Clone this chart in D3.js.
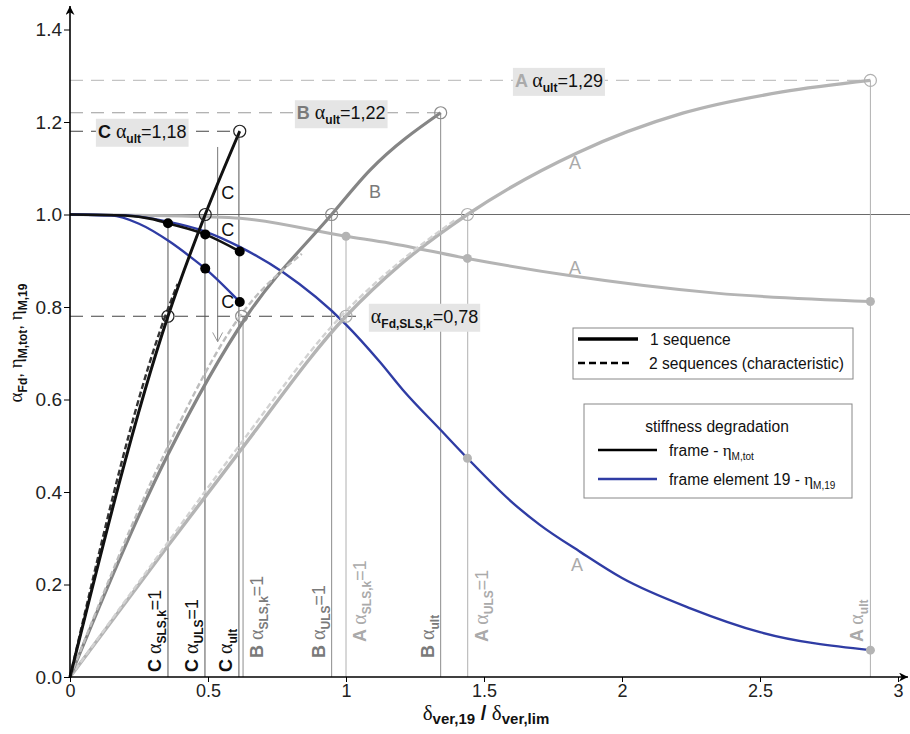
<!DOCTYPE html>
<html>
<head>
<meta charset="utf-8">
<script src="https://cdn.jsdelivr.net/npm/d3@7"></script>
<style>
  body { margin: 0; background: #fff; }
  svg { display: block; }
  text { font-family: "Liberation Sans", Arial, sans-serif; }
</style>
</head>
<body>
<svg id="chart" width="910" height="734"></svg>
<script>
// ---- data ----
const xTicks = [0, 0.5, 1, 1.5, 2, 2.5, 3]
const yTicks = [0, 0.2, 0.4, 0.6, 0.8, 1.0, 1.2, 1.4]

// load factor alpha_Fd vs delta ratio, 1 sequence
const loadC = [[0, 0], [0.355, 0.78], [0.49, 1.0], [0.615, 1.18]]
const loadB = [[0, 0], [0.354, 0.48], [0.64, 0.78], [0.948, 1.0], [1.087, 1.096], [1.343, 1.22]]
const loadA = [[0, 0], [0.344, 0.275], [0.61, 0.484], [1.0, 0.78], [1.2, 0.893], [1.44, 1.0], [1.837, 1.133], [2.22, 1.219], [2.58, 1.265], [2.9, 1.29]]
// 2 sequences (characteristic)
const loadCdash = [[0, 0], [0.345, 0.78], [0.39, 0.85]]
const loadBdash = [[0, 0], [0.34, 0.48], [0.616, 0.78], [0.84, 0.915]]
const loadAdash = [[0, 0], [0.335, 0.275], [0.6, 0.49], [0.99, 0.785], [1.2, 0.9], [1.4, 0.99]]

// stiffness degradation
const etaCtot = [[0, 1], [0.2, 0.998], [0.3, 0.99], [0.355, 0.981], [0.49, 0.957], [0.615, 0.92]]
const etaC19 = [[0, 1], [0.15, 0.998], [0.25, 0.98], [0.362, 0.941], [0.435, 0.909], [0.49, 0.883], [0.615, 0.811]]
const etaAtot = [[0, 1], [0.5, 0.995], [0.616, 0.992], [1.0, 0.953], [1.16, 0.938], [1.44, 0.905], [1.81, 0.868], [2.34, 0.83], [2.9, 0.812]]
const etaA19 = [[0, 1], [0.2, 0.998], [0.35, 0.985], [0.49, 0.963], [0.615, 0.93], [0.772, 0.875], [1.0, 0.762], [1.123, 0.681],
  [1.207, 0.62], [1.343, 0.534], [1.44, 0.473], [1.605, 0.376], [1.7, 0.33], [1.85, 0.27], [2.0, 0.214], [2.25, 0.148], [2.5, 0.097], [2.9, 0.058]]

// limit states per case: vertical guides (x, top value)
const guides = [
  { sc: 'C', x: 0.355, top: 0.981, sub: 'SLS,k', eq: '=1', side: 'l' },
  { sc: 'C', x: 0.489, top: 1.0, sub: 'ULS', eq: '=1', side: 'l' },
  { sc: 'C', x: 0.612, top: 1.18, sub: 'ult', eq: '', side: 'l' },
  { sc: 'B', x: 0.627, top: 0.78, sub: 'SLS,k', eq: '=1', side: 'r' },
  { sc: 'B', x: 0.948, top: 1.0, sub: 'ULS', eq: '=1', side: 'l' },
  { sc: 'A', x: 1.0, top: 0.953, sub: 'SLS,k', eq: '=1', side: 'r' },
  { sc: 'B', x: 1.343, top: 1.22, sub: 'ult', eq: '', side: 'l' },
  { sc: 'A', x: 1.441, top: 1.0, sub: 'ULS', eq: '=1', side: 'r' },
  { sc: 'A', x: 2.9, top: 1.29, sub: 'ult', eq: '', side: 'l' }
]
const openPts = [
  { sc: 'C', p: [0.615, 1.18] }, { sc: 'C', p: [0.49, 1.0] }, { sc: 'C', p: [0.355, 0.78] },
  { sc: 'B', p: [1.343, 1.22] }, { sc: 'B', p: [0.948, 1.0] }, { sc: 'B', p: [0.622, 0.78] },
  { sc: 'A', p: [2.9, 1.29] }, { sc: 'A', p: [1.44, 1.0] }, { sc: 'A', p: [1.0, 0.78] }
]
const dotPts = [
  { sc: 'C', p: [0.355, 0.981] }, { sc: 'C', p: [0.49, 0.957] }, { sc: 'C', p: [0.615, 0.92] },
  { sc: 'C', p: [0.49, 0.883] }, { sc: 'C', p: [0.615, 0.811] },
  { sc: 'A', p: [1.0, 0.953] }, { sc: 'A', p: [1.44, 0.905] }, { sc: 'A', p: [2.9, 0.812] },
  { sc: 'A', p: [1.44, 0.473] }, { sc: 'A', p: [2.9, 0.058] }
]
// ultimate / SLS level annotations
const levels = [
  { sc: 'C', v: 1.18, xEnd: 0.615, xText: 0.101, sub: 'ult', txt: '=1,18' },
  { sc: 'B', v: 1.22, xEnd: 1.343, xText: 0.822, sub: 'ult', txt: '=1,22' },
  { sc: 'A', v: 1.29, xEnd: 2.9, xText: 1.612, sub: 'ult', txt: '=1,29' },
  { sc: '', v: 0.78, xEnd: 1.05, xText: 1.09, sub: 'Fd,SLS,k', txt: '=0,78' }
]
const curveTags = [
  { sc: 'C', p: [0.548, 1.034] }, { sc: 'C', p: [0.548, 0.954] }, { sc: 'C', p: [0.548, 0.798] },
  { sc: 'B', p: [1.083, 1.036] }, { sc: 'A', p: [1.808, 1.098] }, { sc: 'A', p: [1.808, 0.871] }, { sc: 'A', p: [1.815, 0.229] }
]

// ---- setup ----
const svg = d3.select('#chart')
const SERIF = '"Liberation Serif", "DejaVu Serif", serif'
const col = { A: '#b4b4b4', B: '#858585', C: '#111111' }
const textCol = { A: '#aaaaaa', B: '#7a7a7a', C: '#111111' }
const guideCol = { A: '#b0b0b0', B: '#8c8c8c', C: '#555555' }
const levelCol = { A: '#c4c4c4', B: '#9a9a9a', C: '#444444', '': '#444444' }
const labelBottom = { A: 642, B: 658, C: 672 }
const blue = '#2f3ca4'

const x = d3.scaleLinear().domain([0, 3]).range([70, 898])
const y = d3.scaleLinear().domain([0, 1.4]).range([677, 29.5])
const line = d3.line().x(d => x(d[0])).y(d => y(d[1])).curve(d3.curveMonotoneX)

svg.append('rect').attr('width', 910).attr('height', 734).attr('fill', '#fff')

svg.append('defs').append('marker')
  .attr('id', 'arr').attr('viewBox', '0 0 10 10').attr('refX', 10).attr('refY', 5)
  .attr('markerWidth', 11).attr('markerHeight', 9).attr('markerUnits', 'userSpaceOnUse')
  .attr('orient', 'auto')
  .append('path').attr('d', 'M0,0 L10,5 L0,10 L3,5 z').attr('fill', '#000')

// rich text helper: parts = [text, {b: bold, s: serif, fs: size, dy, c: color}]
function rich(t, parts) {
  parts.forEach(([txt, o]) => {
    t.append('tspan').text(txt)
      .attr('font-weight', o.b ? 'bold' : null)
      .attr('font-family', o.s ? SERIF : null)
      .attr('font-size', o.fs)
      .attr('dy', o.dy || 0)
      .attr('fill', o.c || null)
  })
  return t
}

// ---- guide lines ----
svg.append('line')  // alpha = 1
  .attr('x1', x(0)).attr('x2', 910).attr('y1', y(1)).attr('y2', y(1))
  .attr('stroke', '#6a6a6a').attr('stroke-width', 1)

levels.forEach(l => {
  svg.append('line')
    .attr('x1', x(0)).attr('x2', x(l.xEnd)).attr('y1', y(l.v)).attr('y2', y(l.v))
    .attr('stroke', levelCol[l.sc]).attr('stroke-width', 1.2).attr('stroke-dasharray', '13,8')
})

guides.forEach(g => {
  svg.append('line')
    .attr('x1', x(g.x)).attr('x2', x(g.x)).attr('y1', y(0)).attr('y2', y(g.top))
    .attr('stroke', guideCol[g.sc]).attr('stroke-width', 1)
})

// leader with small arrow near C
svg.append('line')
  .attr('x1', x(0.535)).attr('x2', x(0.535)).attr('y1', y(1.146)).attr('y2', y(0.725))
  .attr('stroke', '#777').attr('stroke-width', 1)
svg.append('path')
  .attr('d', `M${x(0.535) - 5},${y(0.745)} L${x(0.535)},${y(0.725)} L${x(0.535) + 5},${y(0.745)}`)
  .attr('fill', 'none').attr('stroke', '#999').attr('stroke-width', 1)

// ---- curves ----
const drawCurve = (d, stroke, w, dash) => svg.append('path').datum(d).attr('d', line)
  .attr('fill', 'none').attr('stroke', stroke).attr('stroke-width', w)
  .attr('stroke-dasharray', dash || null).attr('stroke-linecap', 'butt')

drawCurve(etaAtot, col.A, 3)
drawCurve(etaA19, blue, 2.4)
drawCurve(loadA, col.A, 3.4)
drawCurve(loadAdash, '#d2d2d2', 2.4, '6,3')
drawCurve(loadB, col.B, 3.2)
drawCurve(loadBdash, '#bdbdbd', 2.4, '6,3')
drawCurve(etaC19, blue, 2.4)
drawCurve(etaCtot, col.C, 2.6)
drawCurve(loadCdash, '#333', 2.4, '6,3')
drawCurve(loadC, col.C, 3)

// ---- markers ----
svg.selectAll('.open').data(openPts).join('circle')
  .attr('cx', d => x(d.p[0])).attr('cy', d => y(d.p[1])).attr('r', 6)
  .attr('fill', 'none').attr('stroke', d => d.sc === 'C' ? '#222' : guideCol[d.sc]).attr('stroke-width', 1.2)

svg.selectAll('.dot').data(dotPts).join('circle')
  .attr('cx', d => x(d.p[0])).attr('cy', d => y(d.p[1])).attr('r', d => d.sc === 'C' ? 5 : 4.5)
  .attr('fill', d => d.sc === 'C' ? '#000' : '#b4b4b4')

// ---- curve tags ----
curveTags.forEach(c => {
  svg.append('text').text(c.sc)
    .attr('x', x(c.p[0])).attr('y', y(c.p[1]))
    .attr('font-size', 18).attr('fill', textCol[c.sc])
})

// ---- level annotation boxes ----
levels.forEach(l => {
  const g = svg.append('g')
  const t = g.append('text').attr('x', x(l.xText)).attr('y', y(l.v) + 6.5).attr('font-size', 18).attr('fill', '#111')
  const parts = []
  if (l.sc) parts.push([l.sc + ' ', { b: true, c: textCol[l.sc] }])
  parts.push(['α', { s: true, fs: 20 }])
  parts.push([l.sub, { b: true, fs: 12, dy: 5 }])
  parts.push([l.txt, { dy: -5 }])
  rich(t, parts)
  const bb = t.node().getBBox()
  g.insert('rect', 'text')
    .attr('x', bb.x - 2).attr('y', bb.y - 1).attr('width', bb.width + 4).attr('height', bb.height + 2)
    .attr('fill', '#e5e5e5')
})

// ---- rotated limit-state labels ----
guides.forEach(g => {
  const bx = x(g.x) + (g.side === 'l' ? -7 : 20)
  const t = svg.append('text')
    .attr('transform', `translate(${bx},${labelBottom[g.sc]}) rotate(-90)`)
    .attr('font-size', 18).attr('fill', textCol[g.sc])
  const parts = [[g.sc + ' ', { b: true }], ['α', { s: true, fs: 20 }], [g.sub, { b: true, fs: 12, dy: 5 }]]
  if (g.eq) parts.push([g.eq, { dy: -5 }])
  rich(t, parts)
})

// ---- axes ----
const gx = svg.append('g').attr('transform', `translate(0,${y(0)})`)
  .call(d3.axisBottom(x).tickValues(xTicks).tickSize(5).tickPadding(2).tickFormat(d => d))
gx.select('.domain').remove()
gx.attr('font-family', '"Liberation Sans", Arial, sans-serif').attr('font-size', 18)
gx.selectAll('text').attr('fill', '#222')

const gy = svg.append('g').attr('transform', `translate(${x(0)},0)`)
  .call(d3.axisLeft(y).tickValues(yTicks).tickSize(6).tickPadding(2).tickFormat(d3.format('.1f')))
gy.select('.domain').remove()
gy.attr('font-family', '"Liberation Sans", Arial, sans-serif').attr('font-size', 19)
gy.selectAll('text').attr('fill', '#222')

svg.append('line').attr('x1', x(0)).attr('x2', x(0)).attr('y1', y(0)).attr('y2', 6)
  .attr('stroke', '#000').attr('stroke-width', 1.6).attr('marker-end', 'url(#arr)')
svg.append('line').attr('x1', x(0)).attr('x2', 908).attr('y1', y(0)).attr('y2', y(0))
  .attr('stroke', '#000').attr('stroke-width', 1.6).attr('marker-end', 'url(#arr)')

// axis titles
const xt = svg.append('text').attr('x', 486).attr('y', 720).attr('text-anchor', 'middle').attr('font-size', 20).attr('fill', '#111')
rich(xt, [['δ', { s: true, fs: 21 }], ['ver,19', { b: true, fs: 15, dy: 4 }], [' / ', { b: true, fs: 20, dy: -4 }],
  ['δ', { s: true, fs: 21 }], ['ver,lim', { b: true, fs: 15, dy: 4 }]])

const yt = svg.append('text').attr('transform', 'translate(22,343) rotate(-90)').attr('text-anchor', 'middle')
  .attr('font-size', 17).attr('fill', '#111')
rich(yt, [['α', { s: true, fs: 19 }], ['Fd', { b: true, fs: 12, dy: 5 }], [', ', { dy: -5 }],
  ['η', { s: true, fs: 19 }], ['M,tot', { b: true, fs: 12, dy: 5 }], [', ', { dy: -5 }],
  ['η', { s: true, fs: 19 }], ['M,19', { b: true, fs: 12, dy: 5 }]])

// ---- legends ----
const lg1 = svg.append('g')
lg1.append('rect').attr('x', 573).attr('y', 328).attr('width', 280).attr('height', 51)
  .attr('fill', '#fff').attr('stroke', '#888').attr('stroke-width', 1)
lg1.append('line').attr('x1', 578).attr('x2', 638).attr('y1', 339).attr('y2', 339).attr('stroke', '#000').attr('stroke-width', 3.5)
lg1.append('line').attr('x1', 578).attr('x2', 632).attr('y1', 363).attr('y2', 363).attr('stroke', '#000').attr('stroke-width', 2.5).attr('stroke-dasharray', '7,4')
lg1.append('text').text('1 sequence').attr('x', 650).attr('y', 345).attr('font-size', 15.6).attr('fill', '#111')
lg1.append('text').text('2 sequences (characteristic)').attr('x', 649).attr('y', 369).attr('font-size', 15.6).attr('fill', '#111')

const lg2 = svg.append('g')
lg2.append('rect').attr('x', 584).attr('y', 404).attr('width', 268).attr('height', 94)
  .attr('fill', '#fff').attr('stroke', '#888').attr('stroke-width', 1)
lg2.append('text').text('stiffness degradation').attr('x', 717).attr('y', 432).attr('text-anchor', 'middle').attr('font-size', 15.6).attr('fill', '#111')
lg2.append('line').attr('x1', 598).attr('x2', 657).attr('y1', 450).attr('y2', 450).attr('stroke', '#000').attr('stroke-width', 2.5)
lg2.append('line').attr('x1', 598).attr('x2', 657).attr('y1', 479).attr('y2', 479).attr('stroke', blue).attr('stroke-width', 2.5)
rich(lg2.append('text').attr('x', 669).attr('y', 456).attr('font-size', 15.6).attr('fill', '#111'),
  [['frame - ', {}], ['η', { s: true, fs: 17 }], ['M,tot', { fs: 10, dy: 4 }]])
rich(lg2.append('text').attr('x', 669).attr('y', 485).attr('font-size', 15.6).attr('fill', '#111'),
  [['frame element 19 - ', {}], ['η', { s: true, fs: 17 }], ['M,19', { fs: 10, dy: 4 }]])
</script>
</body>
</html>
